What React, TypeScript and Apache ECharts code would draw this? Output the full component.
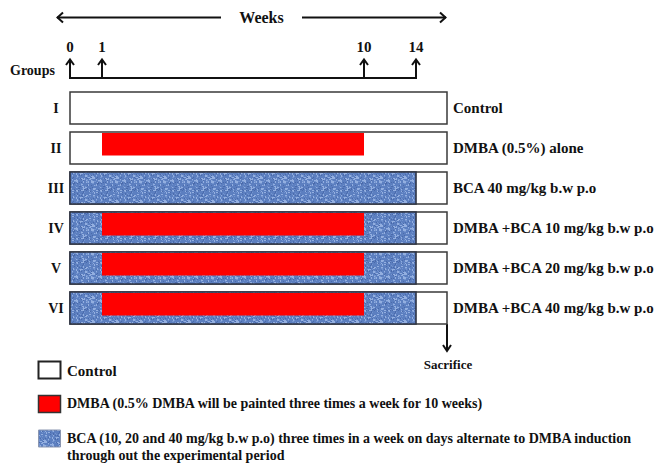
import React, { useEffect, useRef } from "react";
import * as echarts from "echarts";

// ---- Data ----
const GROUPS = ["I", "II", "III", "IV", "V", "VI"];
const TREATMENTS = [
  "Control",
  "DMBA (0.5%) alone",
  "BCA 40 mg/kg b.w p.o",
  "DMBA +BCA 10 mg/kg b.w p.o",
  "DMBA +BCA 20 mg/kg b.w p.o",
  "DMBA +BCA 40 mg/kg b.w p.o",
];
const DMBA_ROWS = [false, true, false, true, true, true];
const BCA_ROWS = [false, false, true, true, true, true];
const WEEK_TICKS = [0, 1, 10, 14];
// schematic (non-linear) position of each week mark on the time axis
const WEEK_AXIS = [0, 32, 294, 346];
const PERIOD_END = 377;
const LEGEND_TEXTS = [
  "Control",
  "DMBA (0.5% DMBA will be painted three times a week for 10 weeks)",
  "BCA (10, 20 and 40 mg/kg b.w p.o) three times in a week on days alternate to DMBA induction",
  "through out the experimental period",
];

const FONT = "'Liberation Serif', 'Times New Roman', serif";
const INK = "#111";

function weekPos(w: number) {
  return WEEK_AXIS[WEEK_TICKS.indexOf(w)];
}

function hash(x: number, y: number) {
  let v = (Math.imul(x, 374761393) + Math.imul(y, 668265263)) | 0;
  v = Math.imul(v ^ (v >>> 13), 1274126177);
  v ^= v >>> 16;
  return (v >>> 0) % 100;
}

function makeTexture() {
  const n = 24;
  const c = document.createElement("canvas");
  c.width = n;
  c.height = n;
  const ctx = c.getContext("2d")!;
  ctx.fillStyle = "#5c7fc0";
  ctx.fillRect(0, 0, n, n);
  for (let x = 0; x < n; x++) {
    for (let y = 0; y < n; y++) {
      const h = hash(x, y);
      if (h < 12) {
        ctx.fillStyle = "#93afe0";
        ctx.fillRect(x, y, h < 6 ? 2 : 1, h < 6 ? 1 : 2);
      } else if (h < 22) {
        ctx.fillStyle = "#7394cf";
        ctx.fillRect(x, y, 1, 1);
      } else if (h < 30) {
        ctx.fillStyle = "#4a6aab";
        ctx.fillRect(x, y, 1, 1);
      }
    }
  }
  return c;
}

export default function App() {
  const ref = useRef<HTMLDivElement>(null);

  useEffect(() => {
    if (!ref.current) return;
    const chart = echarts.init(ref.current, undefined, { renderer: "svg" });
    const tex = makeTexture();
    const bluePattern: any = { image: tex, repeat: "repeat" };

    // segments: [row, start, end, kind] kind 0=control 1=bca 2=dmba
    const segs: number[][] = [];
    GROUPS.forEach((_, i) => segs.push([i, 0, PERIOD_END, 0]));
    GROUPS.forEach((_, i) => {
      if (BCA_ROWS[i]) segs.push([i, 0, weekPos(14), 1]);
    });
    GROUPS.forEach((_, i) => {
      if (DMBA_ROWS[i]) segs.push([i, weekPos(1), weekPos(10), 2]);
    });

    const gridLeft = 70;
    const gridWidth = 377;
    const endX = gridLeft + gridWidth;

    const option: any = {
      animation: false,
      backgroundColor: "#fff",
      grid: { left: gridLeft, width: gridWidth, top: 88, height: 240 },
      xAxis: {
        type: "value",
        min: 0,
        max: PERIOD_END,
        show: false,
      },
      yAxis: [
        {
          type: "category",
          data: GROUPS,
          inverse: true,
          position: "left",
          axisLine: { show: false },
          axisTick: { show: false },
          splitLine: { show: false },
          axisLabel: {
            align: "center",
            margin: 14,
            color: INK,
            fontFamily: FONT,
            fontWeight: "bold",
            fontSize: 14,
          },
        },
        {
          type: "category",
          data: TREATMENTS,
          inverse: true,
          position: "right",
          axisLine: { show: false },
          axisTick: { show: false },
          splitLine: { show: false },
          axisLabel: {
            align: "left",
            margin: 6,
            color: INK,
            fontFamily: FONT,
            fontWeight: "bold",
            fontSize: 15,
          },
        },
      ],
      series: [
        {
          type: "custom",
          data: segs,
          encode: { x: [1, 2], y: 0 },
          renderItem: (params: any, api: any) => {
            const row = api.value(0);
            const p0 = api.coord([api.value(1), row]);
            const p1 = api.coord([api.value(2), row]);
            const band = api.size([0, 1])[1];
            const kind = api.value(3);
            const top = p0[1] - band * 0.4;
            const h = band * 0.8;
            if (kind === 0) {
              return {
                type: "rect",
                shape: { x: p0[0], y: top, width: p1[0] - p0[0], height: h },
                style: { fill: "#fff", stroke: "#3a3a3a", lineWidth: 1.5 },
              };
            }
            if (kind === 1) {
              return {
                type: "rect",
                shape: { x: p0[0], y: top, width: p1[0] - p0[0], height: h },
                style: { fill: bluePattern, stroke: "#2e3444", lineWidth: 1.6 },
              };
            }
            return {
              type: "rect",
              shape: { x: p0[0], y: top + 1, width: p1[0] - p0[0], height: band * 0.56 },
              style: { fill: "#ff0000" },
            };
          },
        },
        {
          type: "custom",
          data: WEEK_AXIS.map((p, i) => [p, WEEK_TICKS[i]]),
          encode: { x: 0 },
          yAxisIndex: 0,
          renderItem: (params: any, api: any) => {
            const i = params.dataIndex;
            const x = api.coord([api.value(0), 0])[0];
            const children: any[] = [
              {
                type: "line",
                shape: { x1: x, y1: 78, x2: x, y2: 60 },
                style: { stroke: INK, lineWidth: 2 },
              },
              {
                type: "polyline",
                shape: { points: [[x - 4, 65], [x, 59.5], [x + 4, 65]] },
                style: { stroke: INK, lineWidth: 2, fill: "none" },
              },
              {
                type: "text",
                style: {
                  x: x,
                  y: 47,
                  text: String(api.value(1)),
                  align: "center",
                  verticalAlign: "middle",
                  fontFamily: FONT,
                  fontWeight: "bold",
                  fontSize: 15,
                  fill: INK,
                },
              },
            ];
            if (i > 0) {
              const xp = api.coord([WEEK_AXIS[i - 1], 0])[0];
              children.push({
                type: "line",
                shape: { x1: xp - 1, y1: 78, x2: x + 1, y2: 78 },
                style: { stroke: INK, lineWidth: 2 },
              });
            }
            return { type: "group", children };
          },
        },
      ],
      graphic: [
        // Weeks arrow
        { type: "line", shape: { x1: 57, y1: 17.5, x2: 221, y2: 17.5 }, style: { stroke: INK, lineWidth: 2 } },
        { type: "polyline", shape: { points: [[63, 12.5], [57.5, 17.5], [63, 22.5]] }, style: { stroke: INK, lineWidth: 2, fill: "none" } },
        { type: "line", shape: { x1: 302, y1: 17.5, x2: 446, y2: 17.5 }, style: { stroke: INK, lineWidth: 2 } },
        { type: "polyline", shape: { points: [[440, 12.5], [445.5, 17.5], [440, 22.5]] }, style: { stroke: INK, lineWidth: 2, fill: "none" } },
        {
          type: "text",
          style: { x: 261.5, y: 17.5, text: "Weeks", align: "center", verticalAlign: "middle", fontFamily: FONT, fontWeight: "bold", fontSize: 16, fill: INK },
        },
        {
          type: "text",
          style: { x: 10, y: 70, text: "Groups", align: "left", verticalAlign: "middle", fontFamily: FONT, fontWeight: "bold", fontSize: 14, fill: INK },
        },
        // Sacrifice arrow
        { type: "line", shape: { x1: endX, y1: 324, x2: endX, y2: 351 }, style: { stroke: INK, lineWidth: 2 } },
        { type: "polyline", shape: { points: [[endX - 4, 345], [endX, 351], [endX + 4, 345]] }, style: { stroke: INK, lineWidth: 2, fill: "none" } },
        {
          type: "text",
          style: { x: endX + 1, y: 364, text: "Sacrifice", align: "center", verticalAlign: "middle", fontFamily: FONT, fontWeight: "bold", fontSize: 13, fill: INK },
        },
        // Legend
        { type: "rect", shape: { x: 38.5, y: 361.5, width: 22, height: 17 }, style: { fill: "#fff", stroke: "#222", lineWidth: 2 } },
        {
          type: "text",
          style: { x: 67, y: 371, text: LEGEND_TEXTS[0], align: "left", verticalAlign: "middle", fontFamily: FONT, fontWeight: "bold", fontSize: 15, fill: INK },
        },
        { type: "rect", shape: { x: 38.5, y: 395.5, width: 22, height: 17 }, style: { fill: "#ff0000", stroke: "#333", lineWidth: 1.5 } },
        {
          type: "text",
          style: { x: 67, y: 403, text: LEGEND_TEXTS[1], align: "left", verticalAlign: "middle", fontFamily: FONT, fontWeight: "bold", fontSize: 14, fill: INK },
        },
        { type: "rect", shape: { x: 38.5, y: 430, width: 22, height: 17 }, style: { fill: bluePattern, stroke: "#8a96b0", lineWidth: 1 } },
        {
          type: "text",
          style: { x: 67, y: 438, text: LEGEND_TEXTS[2], align: "left", verticalAlign: "middle", fontFamily: FONT, fontWeight: "bold", fontSize: 14, fill: INK },
        },
        {
          type: "text",
          style: { x: 67, y: 455, text: LEGEND_TEXTS[3], align: "left", verticalAlign: "middle", fontFamily: FONT, fontWeight: "bold", fontSize: 14, fill: INK },
        },
      ],
    };

    chart.setOption(option);
    return () => chart.dispose();
  }, []);

  return (
    <div
      ref={ref}
      style={{ position: "fixed", left: 0, top: 0, width: 662, height: 464, background: "#fff" }}
    />
  );
}
